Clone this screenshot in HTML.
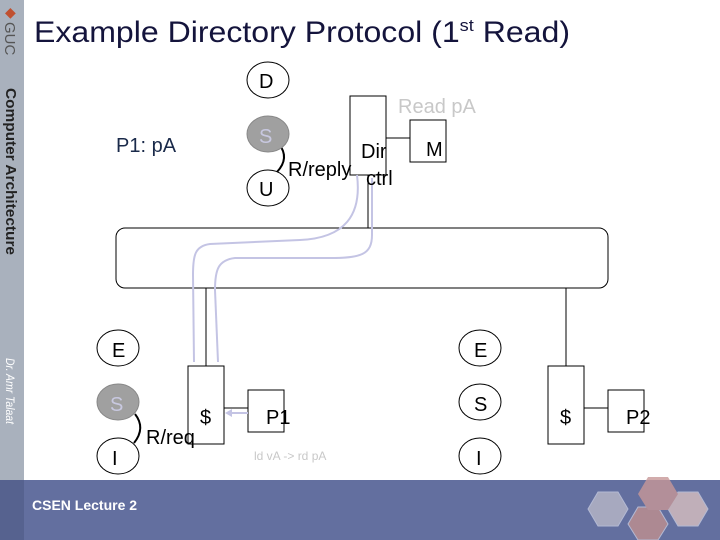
<!DOCTYPE html>
<html><head><style>
body{margin:0;width:720px;height:540px;overflow:hidden;background:#fff;font-family:"Liberation Sans",sans-serif}
</style></head><body>
<svg width="720" height="540" xmlns="http://www.w3.org/2000/svg" style="position:absolute;left:0;top:0">
<rect x="0" y="0" width="24" height="480" fill="#a9b1bd"/>
<rect x="0" y="480" width="720" height="60" fill="#636f9f"/>
<rect x="0" y="480" width="24" height="60" fill="#56628f"/>
<g transform="translate(568,482)" opacity="0.8">
<polygon points="30,10 50,10 60,27 50,44 30,44 20,27" fill="#b8b8c8" stroke="#c8cce0"/>
<polygon points="70,25 90,25 100,42 90,58 70,58 60,42" fill="#c09090" stroke="#c8cce0"/>
<polygon points="110,10 130,10 140,27 130,44 110,44 100,27" fill="#d8c0c0" stroke="#c8cce0"/>
<polygon points="80,-5 100,-5 110,12 100,28 80,28 70,12" fill="#c89898"/>
</g>
<text x="5" y="17" font-size="14" fill="#c05030">◆</text>
<text transform="translate(5,22) rotate(90)" font-size="15" fill="#555">GUC</text>
<text transform="translate(6,88) rotate(90)" font-size="14.5" font-weight="bold" fill="#222" textLength="167" lengthAdjust="spacingAndGlyphs">Computer Architecture</text>
<text transform="translate(6,358) rotate(90)" font-size="12" font-style="italic" fill="#fff" textLength="66" lengthAdjust="spacingAndGlyphs">Dr. Amr Talaat</text>
<text x="32" y="510" font-size="14" font-weight="bold" fill="#fff">CSEN Lecture  2</text>
<text x="34" y="42" font-size="30" fill="#14143c" textLength="536" lengthAdjust="spacingAndGlyphs">Example Directory Protocol (1<tspan font-size="17" dy="-11">st</tspan><tspan dy="11"> Read)</tspan></text>
<g fill="none" stroke="#000" stroke-width="1">
<rect x="116" y="228" width="492" height="60" rx="9"/>
<rect x="350" y="96" width="36" height="79"/>
<rect x="410" y="120" width="36" height="42"/>
<line x1="386" y1="138" x2="410" y2="138"/>
<line x1="368" y1="175" x2="368" y2="228"/>
<line x1="206" y1="288" x2="206" y2="366"/>
<rect x="188" y="366" width="36" height="78"/>
<rect x="248" y="390" width="36" height="42"/>
<line x1="224" y1="408" x2="248" y2="408"/>
<line x1="566" y1="288" x2="566" y2="366"/>
<rect x="548" y="366" width="36" height="78"/>
<rect x="608" y="390" width="36" height="42"/>
<line x1="584" y1="408" x2="608" y2="408"/>
<ellipse cx="268" cy="80" rx="21" ry="18"/>
<ellipse cx="268" cy="188" rx="21" ry="18"/>
<ellipse cx="118" cy="348" rx="21" ry="18"/>
<ellipse cx="118" cy="456" rx="21" ry="18"/>
<ellipse cx="480" cy="348" rx="21" ry="18"/>
<ellipse cx="480" cy="402" rx="21" ry="18"/>
<ellipse cx="480" cy="456" rx="21" ry="18"/>
<path d="M279,144 Q290,158 277,172" stroke-width="2"/>
<path d="M135,414 Q146,428 134,443" stroke-width="2"/>
</g>
<ellipse cx="268" cy="134" rx="21" ry="18" fill="#a0a0a0" stroke="#888"/>
<ellipse cx="118" cy="402" rx="21" ry="18" fill="#a0a0a0" stroke="#888"/>
<g fill="none" stroke="#c4c4e4" stroke-width="2">
<path d="M357,175 C362,215 345,238 300,240 L210,244 C195,246 193,255 193,275 L194,362"/>
<path d="M372,178 L372,235 C372,255 360,258 330,258 L235,258 C218,260 215,270 215,290 L218,362"/>
<line x1="248" y1="413" x2="230" y2="413"/>
</g>
<polygon points="225,413 232,409 232,417" fill="#c4c4e4"/>
<g font-size="20" fill="#000">
<text x="259" y="88">D</text>
<text x="259" y="196" >U</text>
<text x="112" y="357">E</text>
<text x="112" y="465">I</text>
<text x="474" y="357">E</text>
<text x="474" y="411">S</text>
<text x="476" y="465">I</text>
<text x="361" y="158">Dir</text>
<text x="366" y="185">ctrl</text>
<text x="426" y="156">M</text>
<text x="288" y="176">R/reply</text>
<text x="146" y="444">R/req</text>
<text x="200" y="424">$</text>
<text x="560" y="424">$</text>
<text x="266" y="424">P1</text>
<text x="626" y="424">P2</text>
</g>
<text x="259" y="143" font-size="20" fill="#c8c8e0">S</text>
<text x="110" y="411" font-size="20" fill="#c8c8e0">S</text>
<text x="398" y="113" font-size="20" fill="#c8c8c8">Read pA</text>
<text x="116" y="152" font-size="20" fill="#1a2a4a">P1: pA</text>
<text x="254" y="460" font-size="12" fill="#c8c8c8">ld vA -&gt; rd pA</text>
</svg>
</body></html>
